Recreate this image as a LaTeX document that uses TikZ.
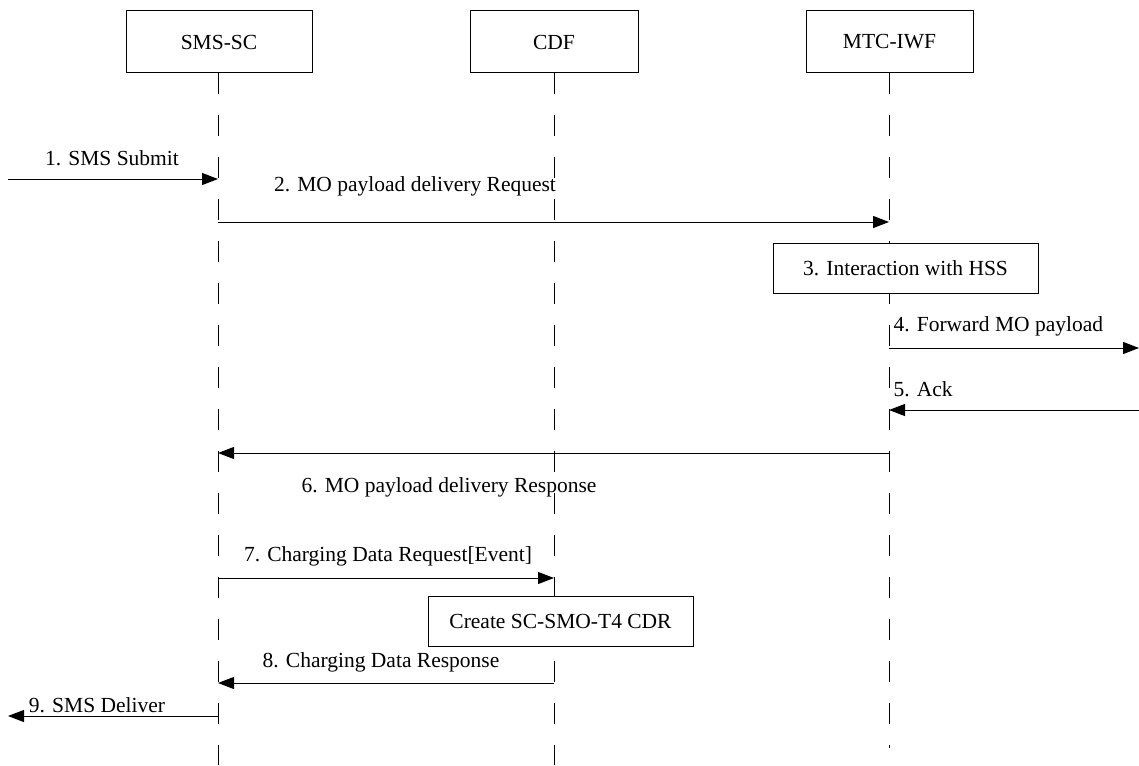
\documentclass[tikz,border=0pt]{standalone}
\usepackage{fontspec}
\setmainfont{Liberation Serif}
\usetikzlibrary{arrows.meta}

\begin{document}
\begin{tikzpicture}[x=1pt,y=-1pt,line width=1pt,
		font=\fontsize{21.5}{24}\selectfont,
		entity/.style={draw,fill=white,minimum width=#1,minimum height=62pt,inner sep=0pt},
		actbox/.style={draw,fill=white,minimum height=50pt,inner sep=0pt},
		lifeline/.style={dash pattern=on 21pt off 21pt},
		msg/.style={-{Triangle[length=16pt,width=12pt]}},
		lbl/.style={inner sep=0pt}]
		\useasboundingbox (0,0) rectangle (1139,765);
		\coordinate (smsbot) at (218,765);
		\coordinate (cdfbot) at (554,765);
		\coordinate (mtcbot) at (889,748);
		\draw[lifeline] (218,73) -- (smsbot);
		\draw[lifeline] (554,73) -- (cdfbot);
		\draw[lifeline] (889,73) -- (mtcbot);
		\node[entity=186pt] (sms) at (219,42) {SMS-SC};
		\node[entity=168pt] (cdf) at (554,42) {CDF};
		\node[entity=167pt] (mtc) at (889.5,42) {MTC-IWF};
		\coordinate (ue1) at (8,179);
		\coordinate (sms1) at (218,179);
		\coordinate (sms2) at (218,222);
		\coordinate (mtc2) at (889,222);
		\coordinate (mtc4) at (889,348);
		\coordinate (ext4) at (1139,348);
		\coordinate (ext5) at (1139,410);
		\coordinate (mtc5) at (889,410);
		\coordinate (mtc6) at (889,453);
		\coordinate (sms6) at (218,453);
		\coordinate (sms7) at (218,578);
		\coordinate (cdf7) at (554,578);
		\coordinate (cdf8) at (554,683);
		\coordinate (sms8) at (218,683);
		\coordinate (sms9) at (218,716);
		\coordinate (ue9) at (8,716);
		\draw[msg] (ue1) -- (sms1);
		\draw[msg] (sms2) -- (mtc2);
		\node[actbox,minimum width=265pt] (hss) at (905.5,268) {3. Interaction with HSS};
		\draw[msg] (mtc4) -- (ext4);
		\draw[msg] (ext5) -- (mtc5);
		\draw[msg] (mtc6) -- (sms6);
		\draw[msg] (sms7) -- (cdf7);
		\node[actbox,minimum width=265pt] (cdr) at (560.5,621.5) {Create SC-SMO-T4 CDR};
		\draw[msg] (cdf8) -- (sms8);
		\draw[msg] (sms9) -- (ue9);
		\node[lbl] (l1) at (112,158) {1. SMS Submit};
		\node[lbl] (l2) at (415,186) {2. MO payload delivery Request};
		\node[lbl,anchor=west] (l4) at (893,326) {4. Forward MO payload};
		\node[lbl,anchor=west] (l5) at (893,389) {5. Ack};
		\node[lbl] (l6) at (449,487) {6. MO payload delivery Response};
		\node[lbl] (l7) at (388,556) {7. Charging Data Request[Event]};
		\node[lbl] (l8) at (381,662) {8. Charging Data Response};
		\node[lbl] (l9) at (97,705) {9. SMS Deliver};
	\end{tikzpicture}
\end{document}
